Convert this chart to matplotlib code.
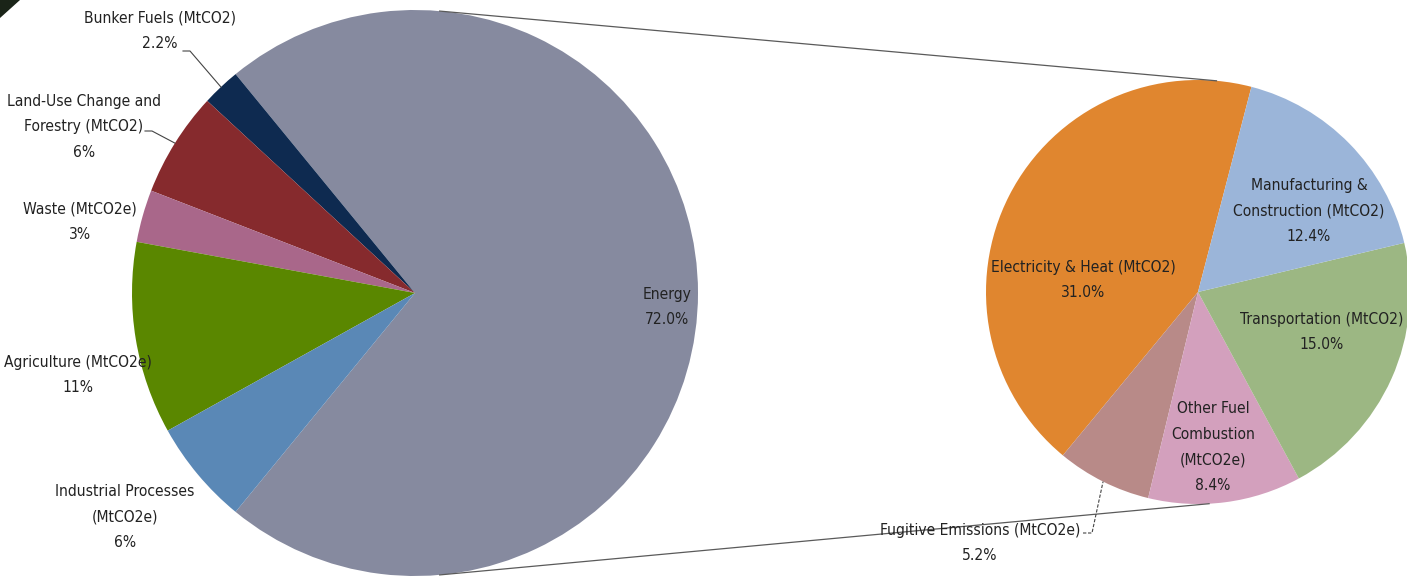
import numpy as np
import matplotlib
matplotlib.use("Agg")
import matplotlib.pyplot as plt
from matplotlib import font_manager as fm
from matplotlib.patches import Polygon

# ---------------- data ----------------
left_labels = ["Energy", "Bunker Fuels (MtCO2)", "Land-Use Change and\nForestry (MtCO2)",
               "Waste (MtCO2e)", "Agriculture (MtCO2e)", "Industrial Processes\n(MtCO2e)"]
left_values = [72.0, 2.2, 6, 3, 11, 6]
left_pct = ["72.0%", "2.2%", "6%", "3%", "11%", "6%"]
left_colors = ["#868A9F", "#0E2A50", "#862A2D", "#A9678A", "#5A8700", "#5A88B6"]

right_labels = ["Electricity & Heat (MtCO2)", "Fugitive Emissions (MtCO2e)",
                "Other Fuel\nCombustion\n(MtCO2e)", "Transportation (MtCO2)",
                "Manufacturing &\nConstruction (MtCO2)"]
right_values = [31.0, 5.2, 8.4, 15.0, 12.4]
right_pct = ["31.0%", "5.2%", "8.4%", "15.0%", "12.4%"]
right_colors = ["#E0862F", "#B88A88", "#D3A0BD", "#9CB783", "#9BB5D9"]

# ---------------- font ----------------
names = {f.name for f in fm.fontManager.ttflist}
if "Liberation Sans Narrow" in names:
    FAM, STRETCH = "Liberation Sans Narrow", "normal"
else:
    FAM, STRETCH = "DejaVu Sans", "condensed"
TXT = dict(family=FAM, fontstretch=STRETCH, fontsize=11.2, color="#222222",
           ha="center", va="center", linespacing=1.9)

W, H = 1407, 577
fig = plt.figure(figsize=(W / 100, H / 100), dpi=100)
ax = fig.add_axes([0, 0, 1, 1])

def Y(y):  # image y -> data y
    return H - y

# ---------------- pies ----------------
LC, LR = (415, Y(293)), 283
RC, RR = (1198, Y(292)), 212

ltot = sum(left_values)
lstart = -left_values[0] / ltot * 360 / 2
lw, _ = ax.pie(left_values, colors=left_colors, startangle=lstart, center=LC,
               radius=LR, frame=True, wedgeprops=dict(linewidth=0))
rstart = 75.4
rw, _ = ax.pie(right_values, colors=right_colors, startangle=rstart, center=RC,
               radius=RR, frame=True, wedgeprops=dict(linewidth=0))

ax.set_xlim(0, W)
ax.set_ylim(0, H)
ax.set_aspect("equal")
ax.axis("off")

# ---------------- connecting lines ----------------
def pt(c, r, ang):
    a = np.deg2rad(ang)
    return c[0] + r * np.cos(a), c[1] + r * np.sin(a)

p1, p2 = pt(LC, LR, 85), pt(RC, RR, 85)
p3, p4 = pt(LC, LR, -85), pt(RC, RR, -87)
ax.plot([p1[0], p2[0]], [p1[1], p2[1]], color="#5a5a5a", lw=0.9, zorder=5)
ax.plot([p3[0], p4[0]], [p3[1], p4[1]], color="#5a5a5a", lw=0.9, zorder=5)

# ---------------- labels ----------------
left_pos = [(667, 307), (160, 31), (84, 127), (80, 222), (78, 375), (125, 517)]
right_pos = [(1083, 280), (980, 543), (1213, 447), (1322, 332), (1309, 211)]

for lab, pct, (x, y) in zip(left_labels, left_pct, left_pos):
    ax.text(x, Y(y), lab + "\n" + pct, zorder=6, **TXT)
for lab, pct, (x, y) in zip(right_labels, right_pct, right_pos):
    ax.text(x, Y(y), lab + "\n" + pct, zorder=6, **TXT)

# leader lines
def wedge_mid(w):
    return (w.theta1 + w.theta2) / 2

def leader(start, elbow, wedge, c, r, ls="-"):
    end = pt(c, r, wedge_mid(wedge))
    ax.plot([start[0], elbow[0], end[0]], [Y(start[1]), Y(elbow[1]), end[1]],
            color="#444444", lw=0.8, ls=ls, zorder=5)

leader((183, 51), (190, 51), lw[1], LC, LR)
leader((145, 131), (152, 131), lw[2], LC, LR)
leader((1083, 533), (1092, 533), rw[1], RC, RR, ls=(0, (3, 1.5)))

# corner triangle
fig.patches.append(Polygon([[0, 1], [20 / W, 1], [0, 1 - 18 / H]], closed=True,
                           transform=fig.transFigure, facecolor="#1A2418",
                           edgecolor="none"))

fig.savefig("out.png", dpi=100)
